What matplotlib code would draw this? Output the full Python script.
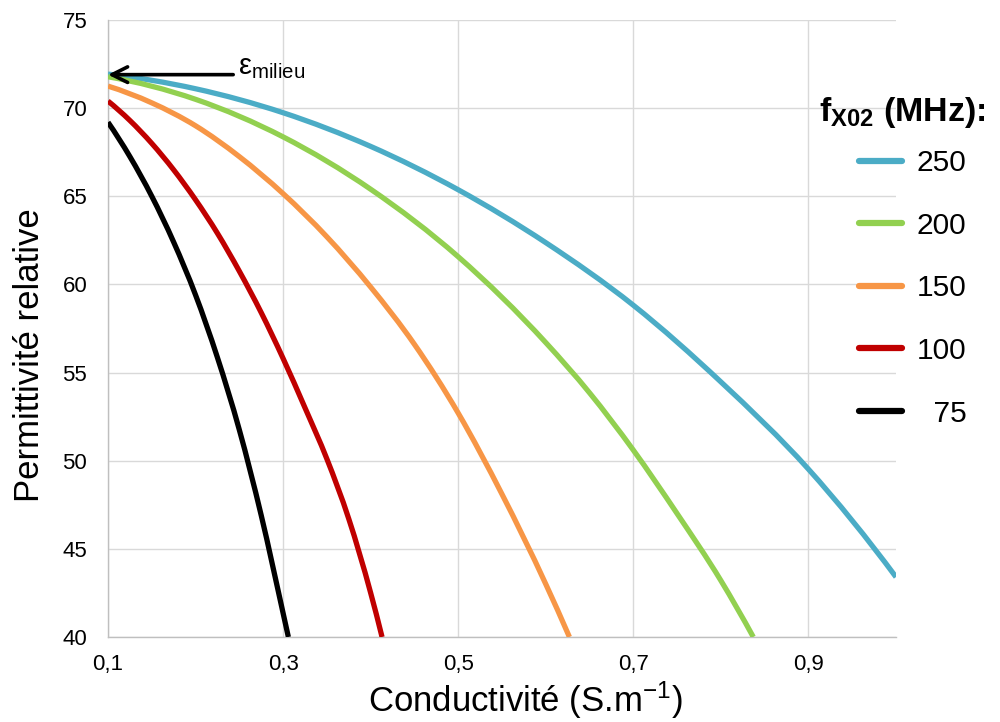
import matplotlib
matplotlib.use("Agg")
import matplotlib.pyplot as plt
from matplotlib.path import Path
from matplotlib.patches import PathPatch
from matplotlib.lines import Line2D

plt.rcParams['font.family'] = ['Liberation Sans', 'DejaVu Sans']
plt.rcParams['mathtext.fontset'] = 'custom'
plt.rcParams['mathtext.rm'] = 'Liberation Sans'
plt.rcParams['mathtext.it'] = 'Liberation Sans:italic'
plt.rcParams['mathtext.bf'] = 'Liberation Sans:bold'

# Data
x_250 = [0.1, 0.2, 0.3, 0.4, 0.5, 0.6, 0.7, 0.8, 0.9, 1.0]
y_250 = [71.93, 71.1, 69.74, 67.83, 65.37, 62.37, 58.82, 54.47, 49.52, 43.4]

x_200 = [0.1, 0.2, 0.3, 0.4, 0.5, 0.6, 0.65, 0.7, 0.75, 0.8, 0.837]
y_200 = [71.78, 70.5, 68.37, 65.4, 61.57, 56.7, 53.85, 50.6, 47.0, 43.2, 40.0]

x_150 = [0.1, 0.15, 0.2, 0.25, 0.3, 0.35, 0.4, 0.45, 0.5, 0.55, 0.6, 0.627]
y_150 = [71.25, 70.3, 69.0, 67.25, 65.15, 62.7, 59.85, 56.6, 52.7, 48.1, 43.0, 40.0]

x_100 = [0.1, 0.125, 0.15, 0.175, 0.2, 0.225, 0.25, 0.275, 0.3, 0.325, 0.35, 0.375, 0.4, 0.413]
y_100 = [70.4, 69.3, 68.0, 66.5, 64.8, 62.9, 60.75, 58.4, 55.8, 53.0, 50.1, 46.7, 42.5, 40.0]

x_75 = [0.1, 0.125, 0.15, 0.175, 0.2, 0.225, 0.25, 0.275, 0.3, 0.306]
y_75 = [69.2, 67.25, 65.0, 62.4, 59.4, 55.85, 51.75, 46.9, 41.35, 40.0]

series_labels = ['250', '200', '150', '100', '  75']
series_colors = ['#4BACC6', '#92D050', '#F79646', '#C00000', '#000000']
series_x = [x_250, x_200, x_150, x_100, x_75]
series_y = [y_250, y_200, y_150, y_100, y_75]

x_ticks = [0.1, 0.3, 0.5, 0.7, 0.9]
x_tick_labels = ['0,1', '0,3', '0,5', '0,7', '0,9']
y_ticks = [40, 45, 50, 55, 60, 65, 70, 75]


def smooth_path(xs, ys):
    """Smoothed line through every data point (cubic Hermite in x,
    drawn as Bezier segments), like a spreadsheet 'smoothed line'."""
    n = len(xs)
    h = [xs[i + 1] - xs[i] for i in range(n - 1)]
    d = [(ys[i + 1] - ys[i]) / h[i] for i in range(n - 1)]
    m = [0.0] * n
    for i in range(1, n - 1):
        m[i] = (h[i - 1] * d[i] + h[i] * d[i - 1]) / (h[i - 1] + h[i])
    if n > 2:
        m[0] = ((2 * h[0] + h[1]) * d[0] - h[0] * d[1]) / (h[0] + h[1])
        m[-1] = ((2 * h[-1] + h[-2]) * d[-1] - h[-1] * d[-2]) / (h[-1] + h[-2])
    else:
        m[0] = m[-1] = d[0]
    verts = [(xs[0], ys[0])]
    codes = [Path.MOVETO]
    for i in range(n - 1):
        c1 = (xs[i] + h[i] / 3.0, ys[i] + m[i] * h[i] / 3.0)
        c2 = (xs[i + 1] - h[i] / 3.0, ys[i + 1] - m[i + 1] * h[i] / 3.0)
        verts += [c1, c2, (xs[i + 1], ys[i + 1])]
        codes += [Path.CURVE4, Path.CURVE4, Path.CURVE4]
    return Path(verts, codes)


fig = plt.figure(figsize=(10, 7.22), dpi=100)
ax = fig.add_axes([0.108, 1 - 637 / 722, 0.788, (637 - 20) / 722])

handles = []
for xs, ys, c, lab in zip(series_x, series_y, series_colors, series_labels):
    patch = PathPatch(smooth_path(xs, ys), facecolor='none', edgecolor=c,
                      lw=3.8, capstyle='butt', joinstyle='round', zorder=3)
    ax.add_patch(patch)
    handles.append(Line2D([], [], color=c, lw=4.5, solid_capstyle='round'))

ax.set_xlim(0.1, 1.0)
ax.set_ylim(40, 75)
ax.set_xticks(x_ticks)
ax.set_xticklabels(x_tick_labels)
ax.set_yticks(y_ticks)
ax.tick_params(axis='both', length=0, labelsize=16)
ax.tick_params(axis='x', pad=12)
ax.tick_params(axis='y', pad=15)
ax.grid(True, color='#D9D9D9', lw=1.0, zorder=0)
ax.set_axisbelow(True)
for s in ['top', 'right']:
    ax.spines[s].set_visible(False)
for s in ['left', 'bottom']:
    ax.spines[s].set_color('#BFBFBF')
    ax.spines[s].set_linewidth(1.0)

fig.text(525 / 1000, 1 - 700 / 722, 'Conductivité (S.m$^{\\mathrm{-1}}$)',
         fontsize=25, ha='center', va='center')
fig.text(30 / 1000, 1 - 355 / 722, 'Permittivité relative',
         fontsize=25, ha='center', va='center', rotation=90)

# arrow annotation
ax.annotate('', xy=(0.1, 71.9), xytext=(0.243, 71.9),
            arrowprops=dict(arrowstyle='->', lw=2.6, color='black',
                            mutation_scale=28, shrinkA=0, shrinkB=0))
ax.text(0.248, 71.55, 'ε$_{\\mathrm{milieu}}$', fontsize=21, va='bottom', ha='left')

leg = ax.legend(handles, series_labels, loc='upper left',
                bbox_to_anchor=(859 / 1000, 1 - 149 / 722),
                bbox_transform=fig.transFigure, frameon=False,
                fontsize=21.5, handlelength=1.44, handletextpad=0.5,
                labelspacing=1.16, borderaxespad=0, borderpad=0)

fig.text(986 / 1000, 1 - 112 / 722, r'$\mathbf{f_{X02}}$ (MHz):',
         fontsize=24.5, fontweight='bold', ha='right', va='center')

fig.savefig('out.png', dpi=100)
